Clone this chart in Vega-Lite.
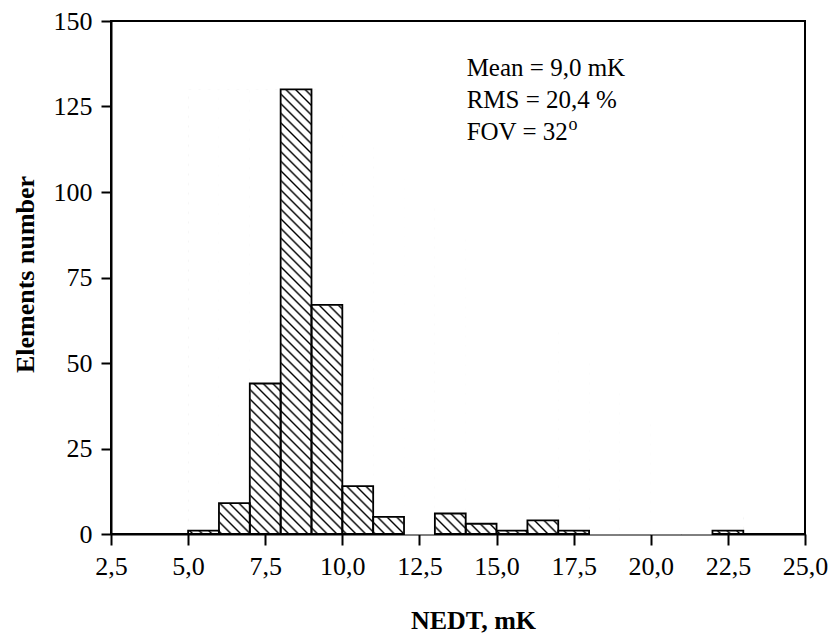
{
  "$schema": "https://vega.github.io/schema/vega-lite/v6.json",
  "width": 694,
  "height": 513,
  "autosize": {"type": "none"},
  "padding": {"left": 111, "top": 21, "right": 30, "bottom": 102},
  "background": "white",
  "config": {
    "view": {"stroke": "#000", "strokeWidth": 2},
    "font": "Liberation Serif",
    "axis": {
      "domainColor": "#000", "domainWidth": 2, "tickColor": "#000", "tickWidth": 2,
      "labelColor": "#000", "labelFont": "Liberation Serif", "labelFontSize": 26,
      "titleColor": "#000", "titleFont": "Liberation Serif", "titleFontSize": 26, "titleFontWeight": "bold",
      "grid": false, "zindex": 1
    }
  },
  "data": {"values": [
    {"bin_start": 5, "bin_end": 6, "count": 1},
    {"bin_start": 6, "bin_end": 7, "count": 9},
    {"bin_start": 7, "bin_end": 8, "count": 44},
    {"bin_start": 8, "bin_end": 9, "count": 130},
    {"bin_start": 9, "bin_end": 10, "count": 67},
    {"bin_start": 10, "bin_end": 11, "count": 14},
    {"bin_start": 11, "bin_end": 12, "count": 5},
    {"bin_start": 12, "bin_end": 13, "count": 0},
    {"bin_start": 13, "bin_end": 14, "count": 6},
    {"bin_start": 14, "bin_end": 15, "count": 3},
    {"bin_start": 15, "bin_end": 16, "count": 1},
    {"bin_start": 16, "bin_end": 17, "count": 4},
    {"bin_start": 17, "bin_end": 18, "count": 1},
    {"bin_start": 18, "bin_end": 19, "count": 0},
    {"bin_start": 19, "bin_end": 20, "count": 0},
    {"bin_start": 20, "bin_end": 21, "count": 0},
    {"bin_start": 21, "bin_end": 22, "count": 0},
    {"bin_start": 22, "bin_end": 23, "count": 1}
  ]},
  "layer": [
    {
      "data": {"values": [{}]},
      "mark": {"type": "rect", "strokeWidth": 0, "fill": {
        "gradient": "linear", "x1": 0, "y1": 1, "x2": 1.0972, "y2": 0.12138,
        "stops": [
          {"offset":0.0028,"color":"#fff"},{"offset":0.0048,"color":"#000"},{"offset":0.0068,"color":"#fff"},
          {"offset":0.0124,"color":"#fff"},{"offset":0.0144,"color":"#000"},{"offset":0.0164,"color":"#fff"},
          {"offset":0.0220,"color":"#fff"},{"offset":0.0240,"color":"#000"},{"offset":0.0260,"color":"#fff"},
          {"offset":0.0316,"color":"#fff"},{"offset":0.0336,"color":"#000"},{"offset":0.0356,"color":"#fff"},
          {"offset":0.0412,"color":"#fff"},{"offset":0.0432,"color":"#000"},{"offset":0.0452,"color":"#fff"},
          {"offset":0.0508,"color":"#fff"},{"offset":0.0528,"color":"#000"},{"offset":0.0548,"color":"#fff"},
          {"offset":0.0604,"color":"#fff"},{"offset":0.0624,"color":"#000"},{"offset":0.0644,"color":"#fff"},
          {"offset":0.0700,"color":"#fff"},{"offset":0.0720,"color":"#000"},{"offset":0.0740,"color":"#fff"},
          {"offset":0.0796,"color":"#fff"},{"offset":0.0816,"color":"#000"},{"offset":0.0836,"color":"#fff"},
          {"offset":0.0892,"color":"#fff"},{"offset":0.0912,"color":"#000"},{"offset":0.0932,"color":"#fff"},
          {"offset":0.0988,"color":"#fff"},{"offset":0.1008,"color":"#000"},{"offset":0.1028,"color":"#fff"},
          {"offset":0.1084,"color":"#fff"},{"offset":0.1104,"color":"#000"},{"offset":0.1124,"color":"#fff"},
          {"offset":0.1180,"color":"#fff"},{"offset":0.1200,"color":"#000"},{"offset":0.1220,"color":"#fff"},
          {"offset":0.1276,"color":"#fff"},{"offset":0.1296,"color":"#000"},{"offset":0.1316,"color":"#fff"},
          {"offset":0.1372,"color":"#fff"},{"offset":0.1392,"color":"#000"},{"offset":0.1412,"color":"#fff"},
          {"offset":0.1468,"color":"#fff"},{"offset":0.1488,"color":"#000"},{"offset":0.1508,"color":"#fff"},
          {"offset":0.1564,"color":"#fff"},{"offset":0.1584,"color":"#000"},{"offset":0.1604,"color":"#fff"},
          {"offset":0.1660,"color":"#fff"},{"offset":0.1680,"color":"#000"},{"offset":0.1700,"color":"#fff"},
          {"offset":0.1756,"color":"#fff"},{"offset":0.1776,"color":"#000"},{"offset":0.1796,"color":"#fff"},
          {"offset":0.1852,"color":"#fff"},{"offset":0.1872,"color":"#000"},{"offset":0.1892,"color":"#fff"},
          {"offset":0.1948,"color":"#fff"},{"offset":0.1968,"color":"#000"},{"offset":0.1988,"color":"#fff"},
          {"offset":0.2044,"color":"#fff"},{"offset":0.2064,"color":"#000"},{"offset":0.2084,"color":"#fff"},
          {"offset":0.2140,"color":"#fff"},{"offset":0.2160,"color":"#000"},{"offset":0.2180,"color":"#fff"},
          {"offset":0.2236,"color":"#fff"},{"offset":0.2256,"color":"#000"},{"offset":0.2276,"color":"#fff"},
          {"offset":0.2332,"color":"#fff"},{"offset":0.2352,"color":"#000"},{"offset":0.2372,"color":"#fff"},
          {"offset":0.2428,"color":"#fff"},{"offset":0.2448,"color":"#000"},{"offset":0.2468,"color":"#fff"},
          {"offset":0.2524,"color":"#fff"},{"offset":0.2544,"color":"#000"},{"offset":0.2564,"color":"#fff"},
          {"offset":0.2620,"color":"#fff"},{"offset":0.2640,"color":"#000"},{"offset":0.2660,"color":"#fff"},
          {"offset":0.2716,"color":"#fff"},{"offset":0.2736,"color":"#000"},{"offset":0.2756,"color":"#fff"},
          {"offset":0.2812,"color":"#fff"},{"offset":0.2832,"color":"#000"},{"offset":0.2852,"color":"#fff"},
          {"offset":0.2908,"color":"#fff"},{"offset":0.2928,"color":"#000"},{"offset":0.2948,"color":"#fff"},
          {"offset":0.3004,"color":"#fff"},{"offset":0.3024,"color":"#000"},{"offset":0.3044,"color":"#fff"},
          {"offset":0.3100,"color":"#fff"},{"offset":0.3120,"color":"#000"},{"offset":0.3140,"color":"#fff"},
          {"offset":0.3196,"color":"#fff"},{"offset":0.3216,"color":"#000"},{"offset":0.3236,"color":"#fff"},
          {"offset":0.3292,"color":"#fff"},{"offset":0.3312,"color":"#000"},{"offset":0.3332,"color":"#fff"},
          {"offset":0.3388,"color":"#fff"},{"offset":0.3408,"color":"#000"},{"offset":0.3428,"color":"#fff"},
          {"offset":0.3484,"color":"#fff"},{"offset":0.3504,"color":"#000"},{"offset":0.3524,"color":"#fff"},
          {"offset":0.3580,"color":"#fff"},{"offset":0.3600,"color":"#000"},{"offset":0.3620,"color":"#fff"},
          {"offset":0.3676,"color":"#fff"},{"offset":0.3696,"color":"#000"},{"offset":0.3716,"color":"#fff"},
          {"offset":0.3772,"color":"#fff"},{"offset":0.3792,"color":"#000"},{"offset":0.3812,"color":"#fff"},
          {"offset":0.3868,"color":"#fff"},{"offset":0.3888,"color":"#000"},{"offset":0.3908,"color":"#fff"},
          {"offset":0.3964,"color":"#fff"},{"offset":0.3984,"color":"#000"},{"offset":0.4004,"color":"#fff"},
          {"offset":0.4060,"color":"#fff"},{"offset":0.4080,"color":"#000"},{"offset":0.4100,"color":"#fff"},
          {"offset":0.4156,"color":"#fff"},{"offset":0.4176,"color":"#000"},{"offset":0.4196,"color":"#fff"},
          {"offset":0.4252,"color":"#fff"},{"offset":0.4272,"color":"#000"},{"offset":0.4292,"color":"#fff"},
          {"offset":0.4348,"color":"#fff"},{"offset":0.4368,"color":"#000"},{"offset":0.4388,"color":"#fff"},
          {"offset":0.4444,"color":"#fff"},{"offset":0.4464,"color":"#000"},{"offset":0.4484,"color":"#fff"},
          {"offset":0.4540,"color":"#fff"},{"offset":0.4560,"color":"#000"},{"offset":0.4580,"color":"#fff"},
          {"offset":0.4636,"color":"#fff"},{"offset":0.4656,"color":"#000"},{"offset":0.4676,"color":"#fff"},
          {"offset":0.4732,"color":"#fff"},{"offset":0.4752,"color":"#000"},{"offset":0.4772,"color":"#fff"},
          {"offset":0.4828,"color":"#fff"},{"offset":0.4848,"color":"#000"},{"offset":0.4868,"color":"#fff"},
          {"offset":0.4924,"color":"#fff"},{"offset":0.4944,"color":"#000"},{"offset":0.4964,"color":"#fff"},
          {"offset":0.5020,"color":"#fff"},{"offset":0.5040,"color":"#000"},{"offset":0.5060,"color":"#fff"},
          {"offset":0.5116,"color":"#fff"},{"offset":0.5136,"color":"#000"},{"offset":0.5156,"color":"#fff"},
          {"offset":0.5212,"color":"#fff"},{"offset":0.5232,"color":"#000"},{"offset":0.5252,"color":"#fff"},
          {"offset":0.5308,"color":"#fff"},{"offset":0.5328,"color":"#000"},{"offset":0.5348,"color":"#fff"},
          {"offset":0.5404,"color":"#fff"},{"offset":0.5424,"color":"#000"},{"offset":0.5444,"color":"#fff"},
          {"offset":0.5500,"color":"#fff"},{"offset":0.5520,"color":"#000"},{"offset":0.5540,"color":"#fff"},
          {"offset":0.5596,"color":"#fff"},{"offset":0.5616,"color":"#000"},{"offset":0.5636,"color":"#fff"},
          {"offset":0.5692,"color":"#fff"},{"offset":0.5712,"color":"#000"},{"offset":0.5732,"color":"#fff"},
          {"offset":1,"color":"#fff"}
        ]}},
      "encoding": {
        "x": {"datum": 5, "type": "quantitative", "scale": {"domain": [2.5, 25], "nice": false, "zero": false},
          "axis": {"title": "NEDT, mK", "values": [2.5, 5, 7.5, 10, 12.5, 15, 17.5, 20, 22.5, 25], "labelExpr": "replace(format(datum.value, '.1f'), '.', ',')", "tickSize": 11, "labelPadding": 8, "labelFlush": false, "labelOverlap": false, "labelBound": false, "titleX": 362, "titleY": 94, "titleBaseline": "alphabetic"}},
        "x2": {"datum": 23},
        "y": {"datum": 0, "type": "quantitative", "scale": {"domain": [0, 150], "nice": false, "zero": true},
          "axis": {"title": "Elements number", "values": [0, 25, 50, 75, 100, 125, 150], "format": "d", "tickSize": 10, "labelPadding": 9, "labelFlush": false, "labelOverlap": false, "labelBound": false, "titleX": -78, "titleY": 253, "titleBaseline": "alphabetic"}},
        "y2": {"datum": 130}
      }
    },
    {
      "mark": {"type": "rect", "fill": "#fff", "stroke": "#fff", "strokeWidth": 1},
      "encoding": {
        "x": {"field": "bin_start", "type": "quantitative"},
        "x2": {"field": "bin_end"},
        "y": {"field": "count", "type": "quantitative"},
        "y2": {"datum": 130}
      }
    },
    {
      "transform": [{"filter": "datum.count > 0"}],
      "mark": {"type": "rect", "filled": false, "stroke": "#000", "strokeWidth": 1.8},
      "encoding": {
        "x": {"field": "bin_start", "type": "quantitative"},
        "x2": {"field": "bin_end"},
        "y": {"field": "count", "type": "quantitative"},
        "y2": {"datum": 0}
      }
    },
    {
      "data": {"values": [{}]},
      "mark": {"type": "text", "text": ["Mean = 9,0 mK", "RMS = 20,4 %", "FOV = 32"], "lineHeight": 32, "align": "left", "baseline": "alphabetic", "font": "Liberation Serif", "fontSize": 25, "fill": "#000"},
      "encoding": {
        "x": {"datum": 14.03, "type": "quantitative"},
        "y": {"datum": 133.9, "type": "quantitative"}
      }
    },
    {
      "data": {"values": [{}]},
      "mark": {"type": "text", "text": "o", "align": "left", "baseline": "alphabetic", "font": "Liberation Serif", "fontSize": 18, "fill": "#000"},
      "encoding": {
        "x": {"datum": 17.33, "type": "quantitative"},
        "y": {"datum": 118.1, "type": "quantitative"}
      }
    }
  ]
}
